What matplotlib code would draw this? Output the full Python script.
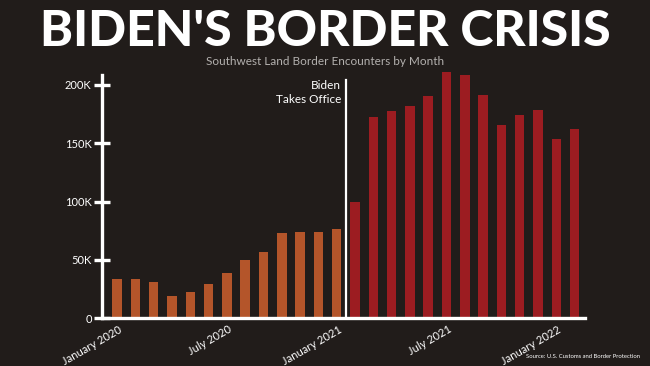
import matplotlib
matplotlib.use("Agg")
import matplotlib.pyplot as plt

# monthly southwest land border encounters (thousands)
months_before = ["Jan 2020", "Feb 2020", "Mar 2020", "Apr 2020", "May 2020", "Jun 2020",
                 "Jul 2020", "Aug 2020", "Sep 2020", "Oct 2020", "Nov 2020", "Dec 2020", "Jan 2021"]
values_before = [33.7, 33.7, 30.9, 19.1, 22.9, 29.7, 38.6, 49.7, 56.9, 73.1, 73.7, 73.7, 76.6]
months_after = ["Feb 2021", "Mar 2021", "Apr 2021", "May 2021", "Jun 2021", "Jul 2021",
                "Aug 2021", "Sep 2021", "Oct 2021", "Nov 2021", "Dec 2021", "Jan 2022", "Feb 2022"]
values_after = [100.0, 172.9, 177.7, 182.3, 190.6, 210.9, 208.6, 191.4, 165.4, 174.3, 178.6, 153.4, 162.3]

xtick_months = ["Jan 2020", "Jul 2020", "Jan 2021", "Jul 2021", "Jan 2022"]
xtick_labels = ["January 2020", "July 2020", "January 2021", "July 2021", "January 2022"]
yticks = [0, 50, 100, 150, 200]
ytick_labels = ["0", "50K", "100K", "150K", "200K"]

BG = "#211c1a"
ORANGE = "#b4552a"
RED = "#9c1c21"
FONT = ["Lato", "DejaVu Sans"]

all_months = months_before + months_after
pos = {m: i for i, m in enumerate(all_months)}

fig = plt.figure(figsize=(6.5, 3.66), dpi=100, facecolor=BG)
ax = fig.add_axes([0.157, 0.1303, 0.743, 0.6853])
ax.set_facecolor("none")

ax.bar([pos[m] for m in months_before], values_before, width=0.52, color=ORANGE)
ax.bar([pos[m] for m in months_after], values_after, width=0.52, color=RED)

ax.set_xlim(-0.82, 25.57)
ax.set_ylim(0, 215)

# inauguration marker
x_line = len(months_before) - 0.5
ax.plot([x_line, x_line], [0, 204], color="white", lw=1.6, clip_on=False)
ax.text(x_line - 0.25, 204, "Biden\nTakes Office", color="white", fontsize=8.5,
        family=FONT, ha="right", va="top", linespacing=1.35)

for s in ["top", "right"]:
    ax.spines[s].set_visible(False)
for s in ["left", "bottom"]:
    ax.spines[s].set_color("white")
    ax.spines[s].set_linewidth(2.4)
ax.spines["left"].set_bounds(0, 208.3)

ax.set_yticks(yticks)
ax.set_yticklabels(ytick_labels, family=FONT, fontsize=8, color="white")
ax.tick_params(axis="y", direction="inout", length=12, width=2.4, color="white", pad=1.5)

# rotated month labels, anchored at each tick position
ax.set_xticks([])
for m, lab in zip(xtick_months, xtick_labels):
    ax.annotate(lab, xy=(pos[m], 0), xycoords=("data", "axes fraction"),
                xytext=(1, -4), textcoords="offset points",
                rotation=30, rotation_mode="anchor", ha="right", va="top",
                family=FONT, fontsize=8, color="white", annotation_clip=False)

fig.text(0.5, 0.875, "BIDEN'S BORDER CRISIS", color="white", fontsize=36,
         family=FONT, weight="black", ha="center", va="baseline")
fig.text(0.5, 0.831, "Southwest Land Border Encounters by Month", color="#b3b0ae",
         fontsize=8.5, family=FONT, ha="center", va="center")
fig.text(0.985, 0.02, "Source: U.S. Customs and Border Protection", color="white",
         fontsize=4.2, family=FONT, ha="right", va="bottom")

fig.savefig("out.png", dpi=100, facecolor=BG)
